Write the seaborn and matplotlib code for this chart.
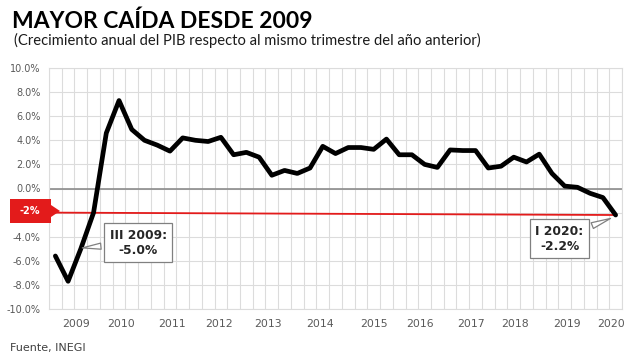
import numpy as np
import pandas as pd
import seaborn as sns
import matplotlib.pyplot as plt
from matplotlib.patches import Polygon

# quarterly annual GDP growth, I 2009 .. I 2020
quarters = ["I", "II", "III", "IV"]
years = [2009, 2010, 2011, 2012, 2013, 2014, 2015, 2016, 2017, 2018, 2019, 2020]
growth = [-5.6, -7.7, -5.0, -2.0,
          4.6, 7.3, 4.9, 4.0,
          3.6, 3.1, 4.2, 4.0,
          3.9, 4.25, 2.8, 3.0,
          2.6, 1.1, 1.5, 1.25,
          1.7, 3.5, 2.9, 3.4,
          3.4, 3.25, 4.1, 2.8,
          2.8, 2.0, 1.75, 3.2,
          3.15, 3.15, 1.7, 1.85,
          2.6, 2.2, 2.85, 1.25,
          0.2, 0.1, -0.4, -0.75,
          -2.2]
ref_level = -2.0
year_label_pos = [1.65, 5.16, 9.15, 12.88, 16.73, 20.79, 24.99, 28.6, 32.65, 36.11, 40.17, 43.63]

labels = [f"{q} {y}" for y in years for q in quarters][:len(growth)]
df = pd.DataFrame({"idx": np.arange(len(growth)), "trimestre": labels, "crecimiento": growth})

sns.set_style("white")
plt.rcParams["font.family"] = ["DejaVu Sans"]

W, H = 640, 360
fig = plt.figure(figsize=(6.4, 3.6), dpi=100)
ax = fig.add_axes([49 / W, 1 - 309 / H, (622 - 49) / W, (309 - 68) / H])

n = len(growth)
ax.set_xlim(-0.5, n - 0.5)
ax.set_ylim(-10, 10)

# grid: one column per quarter, rows every 2%
yt = np.arange(-10, 10.1, 2)
ax.set_xticks(np.arange(-0.5, n, 1), minor=True)
ax.set_yticks(yt)
ax.grid(which="minor", axis="x", color="#dcdcdc", lw=0.8)
ax.grid(which="major", axis="y", color="#dcdcdc", lw=0.8)
ax.set_axisbelow(True)
for s in ax.spines.values():
    s.set_color("#dcdcdc")
    s.set_linewidth(0.8)

ax.set_xticks(year_label_pos)
ax.set_xticklabels([str(y) for y in years])
# the -2% label is covered by the red marker
ax.set_yticklabels(["" if np.isclose(v, ref_level) else f"{v:.1f}%" for v in yt])
ax.tick_params(axis="both", which="both", length=0, colors="#595959")
ax.tick_params(axis="y", labelsize=7, pad=6)
ax.tick_params(axis="x", labelsize=7.8, pad=7)

ax.axhline(0, color="#8c8c8c", lw=1.2, zorder=2)
ax.plot([-0.5, n - 1], [ref_level, growth[-1]], color="#e31b1b", lw=1.3, zorder=2)

sns.lineplot(data=df, x="idx", y="crecimiento", color="black", lw=3.4, ax=ax, zorder=3)
ax.set_xlabel("")
ax.set_ylabel("")

box = dict(boxstyle="square,pad=0.45", fc="white", ec="#808080", lw=0.9)
arrow = dict(arrowstyle="wedge,tail_width=0.5,shrink_factor=0.5", fc="white", ec="#808080", lw=0.9)
i_min = 2
ax.annotate(f"{labels[i_min]}:\n{growth[i_min]:.1f}%", xy=(i_min - 0.1, growth[i_min] + 0.05),
            xytext=(6.5, -4.5), ha="center", va="center", fontsize=8.8, fontweight="bold",
            color="#262626", bbox=box, arrowprops=arrow, zorder=5)
ax.annotate(f"{labels[-1]}:\n{growth[-1]:.1f}%", xy=(n - 1.2, growth[-1] - 0.2),
            xytext=(39.6, -4.15), ha="center", va="center", fontsize=8.8, fontweight="bold",
            color="#262626", bbox=box, arrowprops=arrow, zorder=5)

# red -2% marker on the axis
pts = [(10, 199), (51, 199), (51, 205), (60, 211), (51, 217), (51, 223), (10, 223)]
fig.add_artist(Polygon([(x / W, 1 - y / H) for x, y in pts], closed=True,
                       transform=fig.transFigure, fc="#e31b1b", ec="none", zorder=10))
fig.text(30 / W, 1 - 211 / H, f"{ref_level:.0f}%", color="white", fontsize=7,
         fontweight="bold", ha="center", va="center", zorder=11)

fig.text(12 / W, 1 - 28.5 / H, "MAYOR CAÍDA DESDE 2009", fontsize=16.5, fontweight="bold",
         family="Lato", va="baseline", color="black")
fig.text(14 / W, 1 - 45 / H, "(Crecimiento anual del PIB respecto al mismo trimestre del año anterior)",
         fontsize=10.6, family="Lato", va="baseline", color="#1a1a1a")
fig.text(10 / W, 1 - 351 / H, "Fuente, INEGI", fontsize=8, va="baseline", color="#404040")

fig.savefig("out.png", dpi=100)
